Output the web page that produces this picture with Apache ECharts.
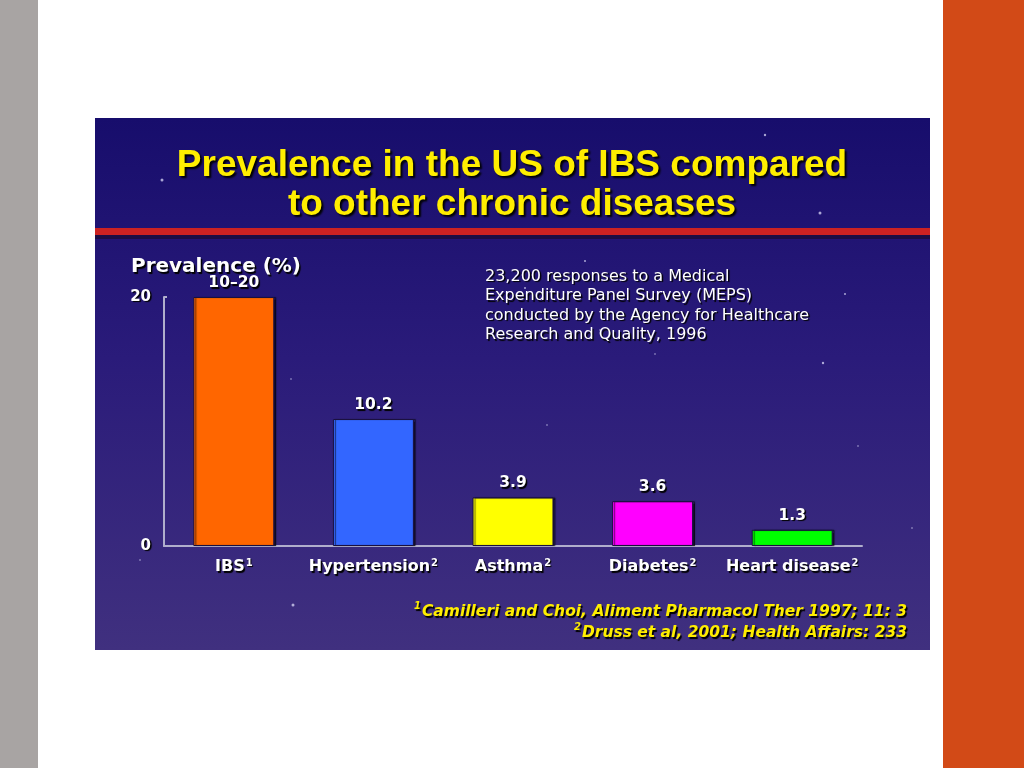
<!DOCTYPE html>
<html>
<head>
<meta charset="utf-8">
<script src="https://cdn.jsdelivr.net/npm/echarts@6/dist/echarts.min.js"></script>
<style>html,body{margin:0;padding:0;background:#fff;}#c{width:1024px;height:768px;}</style>
</head>
<body>
<div id="c"></div>
<script>
const categories = ['IBS', 'Hypertension', 'Asthma', 'Diabetes', 'Heart disease'];
const superscripts = ['1', '2', '2', '2', '2'];
const values = [20, 10.2, 3.9, 3.6, 1.3];
const valueLabels = ['10–20', '10.2', '3.9', '3.6', '1.3'];
const barColors = ['#ff6600', '#3366ff', '#ffff00', '#ff00ff', '#00ff00'];
const yTicks = [0, 20];

const chart = echarts.init(document.getElementById('c'));
const font = '"Liberation Sans", Arial, sans-serif';
const dv = '"DejaVu Sans", sans-serif';
const stars = [[765,135,1.2],[820,213,1.5],[162,180,1.5],[585,261,1],[845,294,1],[525,288,1],[498,301,1],[823,363,1.2],[265,349,0.8],[291,379,0.8],[858,446,0.8],[547,425,0.8],[293,605,1.5],[140,560,0.8],[912,528,0.8],[655,354,0.8],[600,330,0.8]];
const shadow = { textShadowColor: '#000000', textShadowBlur: 1, textShadowOffsetX: 1.5, textShadowOffsetY: 1.5 };

chart.setOption({
  backgroundColor: '#ffffff',
  animation: false,
  graphic: [
    { type: 'rect', shape: { x: 0, y: 0, width: 38, height: 768 }, style: { fill: '#a8a4a3' }, z: -10 },
    { type: 'rect', shape: { x: 943, y: 0, width: 81, height: 768 }, style: { fill: '#d24a17' }, z: -10 },
    { type: 'rect', shape: { x: 95, y: 118, width: 835, height: 532 }, style: {
        fill: { type: 'linear', x: 0, y: 0, x2: 0, y2: 1, colorStops: [
          { offset: 0, color: '#170d6c' }, { offset: 0.45, color: '#2a1b7a' }, { offset: 1, color: '#40307f' } ] } }, z: -9 },
    { type: 'rect', shape: { x: 95, y: 234, width: 835, height: 5 }, style: { fill: '#1a0a30', opacity: 0.7 }, z: -8 },
    { type: 'rect', shape: { x: 95, y: 228, width: 835, height: 7 }, style: { fill: '#cc2222' }, z: -7 },
    ...stars.map(s => ({ type: 'circle', shape: { cx: s[0], cy: s[1], r: s[2] }, style: { fill: 'rgba(230,230,255,0.7)' }, z: -6 })),
    { type: 'text', x: 512, y: 146, style: Object.assign({
        text: 'Prevalence in the US of IBS compared\nto other chronic diseases', fill: '#ffee00',
        font: 'bold 37px ' + font, lineHeight: 39, align: 'center', verticalAlign: 'top' },
        { textShadowColor: '#000000', textShadowBlur: 2, textShadowOffsetX: 2, textShadowOffsetY: 2 }) },
    { type: 'text', x: 131, y: 257, style: Object.assign({
        text: 'Prevalence (%)', fill: '#ffffff', font: 'bold 20px ' + dv, lineHeight: 20, verticalAlign: 'top' }, shadow) },
    { type: 'text', x: 485, y: 267, style: Object.assign({
        text: '23,200 responses to a Medical\nExpenditure Panel Survey (MEPS)\nconducted by the Agency for Healthcare\nResearch and Quality, 1996',
        fill: '#ffffff', font: '16px ' + dv, lineHeight: 19.5, verticalAlign: 'top' }, shadow) },
    { type: 'text', x: 907, y: 601.5, style: Object.assign({
        text: '{s|1}Camilleri and Choi, Aliment Pharmacol Ther 1997; 11: 3\n{s|2}Druss et al, 2001; Health Affairs: 233',
        fill: '#ffee00', font: 'italic bold 15.5px ' + dv, lineHeight: 21, align: 'right', verticalAlign: 'top',
        rich: { s: { fontSize: 10, fontFamily: dv, verticalAlign: 'top', fontWeight: 'bold', fontStyle: 'italic', fill: '#ffee00', padding: [0, 1, 7, 0] } } }, shadow) }
  ],
  grid: { left: 164, right: 162, top: 297, bottom: 222 },
  xAxis: {
    type: 'category', data: categories,
    axisLine: { lineStyle: { color: '#b0aecc', width: 2 } },
    axisTick: { show: false },
    axisLabel: Object.assign({
      margin: 12, interval: 0,
      formatter: (v, i) => v + '{s|' + superscripts[i] + '}',
      color: '#ffffff', fontFamily: dv, fontWeight: 'bold', fontSize: 16, lineHeight: 18,
      rich: { s: { fontSize: 10, fontFamily: dv, verticalAlign: 'top', color: '#ffffff', fontWeight: 'bold', padding: [0, 0, 8, 1],
        textShadowColor: '#000', textShadowBlur: 1, textShadowOffsetX: 1, textShadowOffsetY: 1 } }
    }, shadow)
  },
  yAxis: {
    type: 'value', min: 0, max: 20, interval: 20,
    splitLine: { show: false },
    axisLine: { show: true, lineStyle: { color: '#b0aecc', width: 2 } },
    axisTick: { show: true, length: 3, inside: true, lineStyle: { color: '#b0aecc', width: 2 } },
    axisLabel: Object.assign({
      margin: 13, color: '#ffffff', fontFamily: dv, fontWeight: 'bold', fontSize: 15,
      formatter: v => yTicks.indexOf(v) >= 0 ? String(v) : ''
    }, shadow)
  },
  series: [{
    type: 'bar', barWidth: '58%',
    data: values.map((v, i) => ({ value: v, itemStyle: { color: barColors[i] } })),
    itemStyle: { borderColor: '#1a1040', borderWidth: 1, shadowColor: 'rgba(0,0,0,0.6)', shadowOffsetX: 2, shadowOffsetY: 0, shadowBlur: 1 },
    label: Object.assign({
      show: true, position: 'top', distance: 6,
      formatter: p => valueLabels[p.dataIndex],
      color: '#ffffff', fontFamily: dv, fontWeight: 'bold', fontSize: 15.5
    }, shadow)
  }]
});
</script>
</body>
</html>
